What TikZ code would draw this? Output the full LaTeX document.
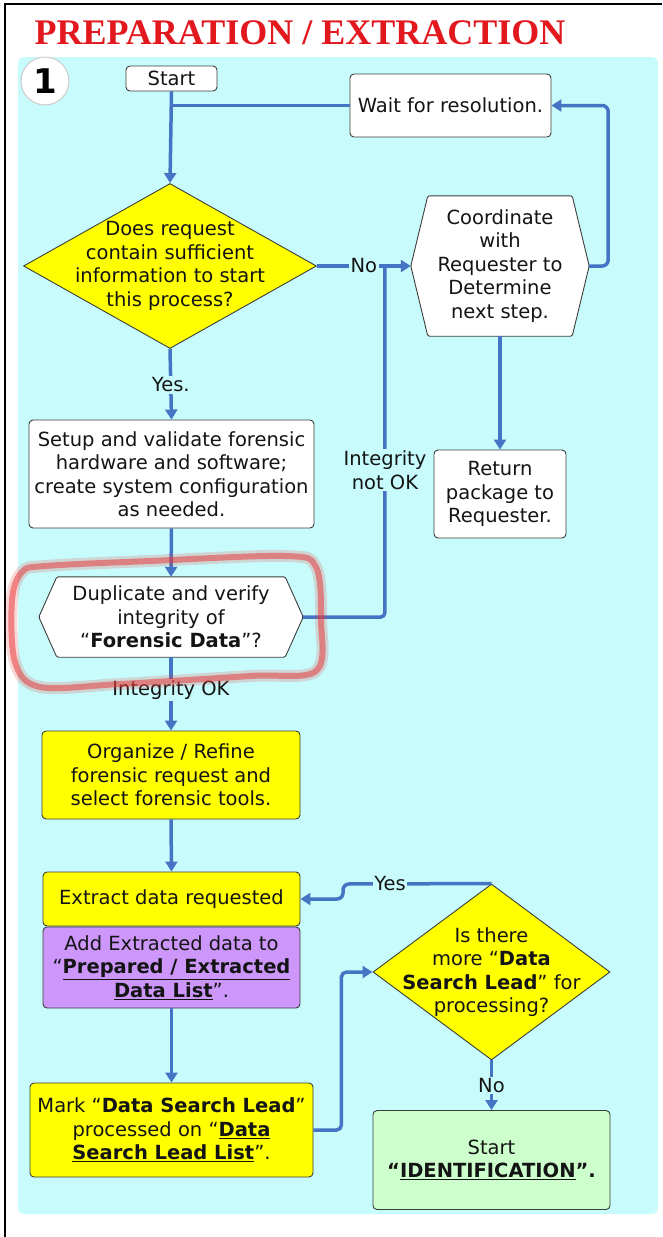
\documentclass[tikz,border=0pt]{standalone}
\usepackage{fontspec}
\setmainfont{DejaVu Sans}
\newfontfamily\titlefont{Liberation Serif}
\usetikzlibrary{arrows.meta,shapes.geometric,calc}

\definecolor{bgcyan}{RGB}{200,252,252}
\definecolor{conncol}{RGB}{70,116,196}
\definecolor{boxyellow}{RGB}{255,255,0}
\definecolor{boxpurple}{RGB}{204,150,250}
\definecolor{boxgreen}{RGB}{204,255,204}
\definecolor{edgecol}{RGB}{60,60,60}
\definecolor{titlered}{RGB}{226,24,30}
\definecolor{hlred}{RGB}{232,60,60}
\definecolor{txtcol}{RGB}{20,20,20}

\begin{document}
\begin{tikzpicture}[x=1pt,y=-1pt,
  txt/.style={font=\fontsize{19.5}{23.5}\selectfont, align=center, text=txtcol},
  box/.style={txt, draw=edgecol, line width=0.9pt, rounded corners=4pt, inner sep=0pt, fill=white},
  ybox/.style={box, fill=boxyellow},
  frame/.style={inner sep=0pt},
  hexpath/.style={draw=edgecol, line width=0.9pt, fill=white, rounded corners=1.5pt},
  dia/.style={diamond, draw=edgecol, line width=0.9pt, fill=boxyellow, inner sep=0pt},
  ln/.style={draw=conncol, line width=3.5pt},
  conn/.style={ln, -{Triangle[width=12pt,length=10pt]}},
  lbl/.style={txt, fill=bgcyan, inner sep=1.5pt},
  hl/.style={draw=hlred, line width=6pt, opacity=0.55, line join=round},
  hlsoft/.style={draw=hlred, line width=12pt, opacity=0.2, line join=round}
]
\useasboundingbox (0,0) rectangle (662,1237);
\fill[white] (0,0) rectangle (662,1237);
% outer frame
\draw[black, line width=2.5pt] (5,1237) -- (5,4) -- (662,4);
% cyan panel
\fill[bgcyan, rounded corners=6pt] (18,57) rectangle (658,1214);

% title
\node[anchor=base, text=titlered, font=\titlefont\bfseries\fontsize{36}{40}\selectfont, inner sep=0pt] (title) at (300,44) {PREPARATION / EXTRACTION};

% number circle
\node[circle, draw=black!20, line width=1pt, fill=white, minimum size=48pt, inner sep=0pt, font=\bfseries\fontsize{34}{34}\selectfont] (num) at (45,81) {1};

% nodes
\node[box, minimum width=91pt, minimum height=25pt] (start) at (171.5,78.5) {Start};
\node[box, minimum width=201pt, minimum height=63pt] (wait) at (450.5,105.5) {Wait for resolution.};

\node[dia, minimum width=293pt, minimum height=165pt] (d1) at (170,266) {};
\node[txt] (d1t) at (d1) {Does request\\contain sufficient\\information to start\\this process?};

\node[frame, minimum width=178pt, minimum height=140pt] (coordhex) at (500,266) {};
\draw[hexpath] ([xshift=17pt]coordhex.north west) -- ([xshift=-17pt]coordhex.north east) -- (coordhex.east) -- ([xshift=-17pt]coordhex.south east) -- ([xshift=17pt]coordhex.south west) -- (coordhex.west) -- cycle;
\node[txt] (coordt) at (coordhex) {Coordinate\\with\\Requester to\\Determine\\next step.};

\node[box, minimum width=132pt, minimum height=88pt] (ret) at (500,494) {Return\\package to\\Requester.};

\node[box, minimum width=285pt, minimum height=108pt] (setup) at (171.5,474) {Setup and validate forensic\\hardware and software;\\create system configuration\\as needed.};

\node[frame, minimum width=264pt, minimum height=80pt] (dup) at (171,617) {};
\draw[hexpath] ([xshift=18pt]dup.north west) -- ([xshift=-18pt]dup.north east) -- (dup.east) -- ([xshift=-18pt]dup.south east) -- ([xshift=18pt]dup.south west) -- (dup.west) -- cycle;
\node[txt] (dupt) at (dup) {Duplicate and verify\\integrity of\\“\textbf{Forensic Data}”?};

\node[ybox, minimum width=258pt, minimum height=88pt] (org) at (171,775) {Organize / Refine\\forensic request and\\select forensic tools.};

\node[ybox, minimum width=257pt, minimum height=54pt] (extract) at (171.5,899) {Extract data requested};
\node[box, fill=boxpurple, minimum width=257pt, minimum height=81pt] (purple) at (171.5,967.5) {Add Extracted data to\\“\underline{\textbf{Prepared / Extracted}}\\\underline{\textbf{Data List}}”.};

\node[ybox, minimum width=283pt, minimum height=94pt] (mark) at (171.5,1130) {Mark “\textbf{Data Search Lead}”\\processed on “\underline{\textbf{Data}}\\\underline{\textbf{Search Lead List}}”.};

\node[dia, minimum width=237pt, minimum height=176pt] (d2) at (491.5,972) {};
\node[txt] (d2t) at (d2) {Is there\\more “\textbf{Data}\\\textbf{Search Lead}” for\\processing?};

\node[box, fill=boxgreen, minimum width=237pt, minimum height=99pt] (green) at (491.5,1160) {Start\\\textbf{“\underline{IDENTIFICATION}”.}};

% connectors
\draw[conn] (start.south) -- (d1.north);
\draw[ln] (wait.west) -- (wait.west -| start.south);
\draw[conn] (d1.east) -- (coordhex.west) node[lbl, pos=0.5] (nolbl) {No};
\coordinate (jn) at ($(coordhex.west)+(-26,0)$);
\draw[ln, rounded corners=4pt] (dup.east) -| (jn);
\node[lbl] (nok) at (385,470) {Integrity\\not OK};
\draw[conn, rounded corners=6pt] (coordhex.east) -- ++(19,0) |- (wait.east);
\draw[conn] (coordhex.south) -- (ret.north);
\draw[conn] (d1.south) -- (setup.north) node[lbl, pos=0.51] (yes1) {Yes.};
\draw[conn] (setup.south) -- (dup.north);
\draw[conn] (dup.south) -- (org.north) node[lbl, pos=0.45] (iok) {Integrity OK};
\draw[conn] (org.south) -- (extract.north);
\draw[conn] (purple.south) -- (mark.north);
\draw[conn, rounded corners=5pt] (mark.east) -- ++(28,0) |- (d2.west);
\coordinate (yk) at (343,884);
\draw[conn, rounded corners=6pt] (d2.north) -- (yk) |- (extract.east);
\node[lbl] (yes2) at (390,884) {Yes};
\draw[conn] (d2.south) -- (green.north) node[lbl, pos=0.5] (no2) {No};

% red highlight
\draw[hlsoft] plot[smooth cycle, tension=0.55] coordinates {(45,566) (150,561) (285,556) (316,567) (321,620) (316,671) (250,676) (120,684) (40,687) (15,662) (12,600) (22,572)};
\draw[hl] plot[smooth cycle, tension=0.55] coordinates {(45,566) (150,561) (285,556) (316,567) (321,620) (316,671) (250,676) (120,684) (40,687) (15,662) (12,600) (22,572)};
\end{tikzpicture}
\end{document}
